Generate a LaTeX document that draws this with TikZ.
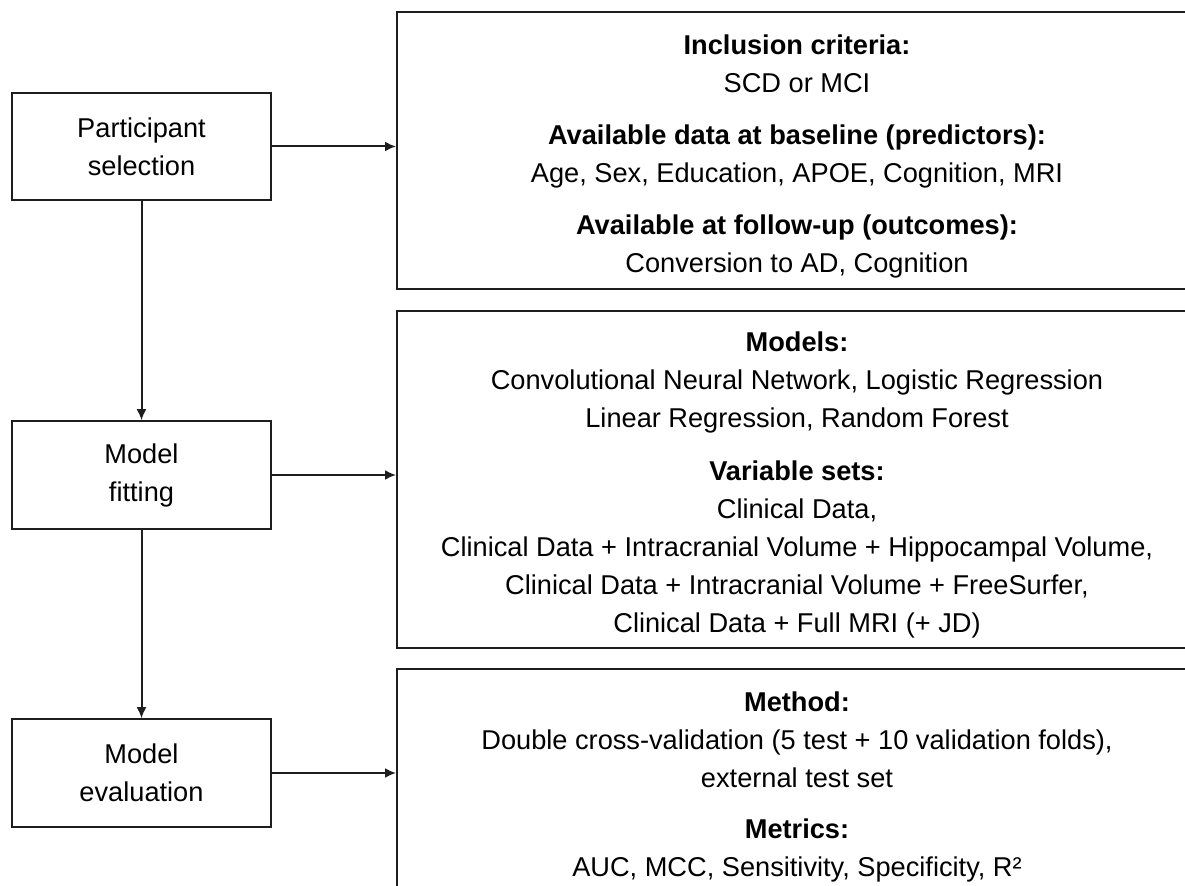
\documentclass[tikz,border=0pt]{standalone}
\usepackage{fontspec}
\setmainfont{Liberation Sans}
\usetikzlibrary{arrows.meta}
\definecolor{lineclr}{RGB}{30,30,30}
\begin{document}
\begin{tikzpicture}[x=0.5pt,y=-0.5pt,
  line width=1pt,
  every node/.style={font=\fontsize{13.6}{19}\selectfont},
  stepbox/.style={draw=lineclr, rectangle, inner sep=0pt, align=center, minimum width=129.5pt, minimum height=53.75pt},
  infobox/.style={draw=lineclr, rectangle, inner sep=0pt, minimum width=400pt},
  infotext/.style={align=center, inner sep=0pt},
  arr/.style={draw=lineclr, -{Latex[length=5.5pt,width=5pt]}},
]
\useasboundingbox (0,0) rectangle (1185,886);
\clip (0,0) rectangle (1185,886);
\fill[white] (0,0) rectangle (1185,886);
% left step boxes
\node[stepbox] (ps) at (141.5,146.5) {Participant\\selection};
\node[stepbox] (mf) at (141.5,475) {Model\\fitting};
\node[stepbox] (me) at (141.5,773) {Model\\evaluation};
% right information boxes
\node[infobox, minimum height=138.5pt] (inc) at (797,150.5) {};
\node[infobox, minimum height=168.5pt] (mod) at (797,479.5) {};
\node[infobox, minimum height=112pt] (evl) at (797,781) {};
% texts
\node[infotext] (inct) at ([yshift=-2.9pt]inc.center) {\textbf{Inclusion criteria:}\\SCD or MCI\\[7pt]\textbf{Available data at baseline (predictors):}\\Age, Sex, Education, APOE, Cognition, MRI\\[7pt]\textbf{Available at follow-up (outcomes):}\\Conversion to AD, Cognition};
\node[infotext] (modt) at ([yshift=-2.9pt]mod.center) {\textbf{Models:}\\Convolutional Neural Network, Logistic Regression\\Linear Regression, Random Forest\\[7.5pt]\textbf{Variable sets:}\\Clinical Data,\\Clinical Data + Intracranial Volume + Hippocampal Volume,\\Clinical Data + Intracranial Volume + FreeSurfer,\\Clinical Data + Full MRI (+ JD)};
\node[infotext] (evlt) at ([yshift=-3.1pt]evl.center) {\textbf{Method:}\\Double cross-validation (5 test + 10 validation folds),\\external test set\\[6.5pt]\textbf{Metrics:}\\AUC, MCC, Sensitivity, Specificity, R²};
% connectors
\draw[arr] (ps) -- (mf);
\draw[arr] (mf) -- (me);
\draw[arr] (ps.east) -- (ps.east -| inc.west);
\draw[arr] (mf.east) -- (mf.east -| mod.west);
\draw[arr] (me.east) -- (me.east -| evl.west);
\end{tikzpicture}
\end{document}
